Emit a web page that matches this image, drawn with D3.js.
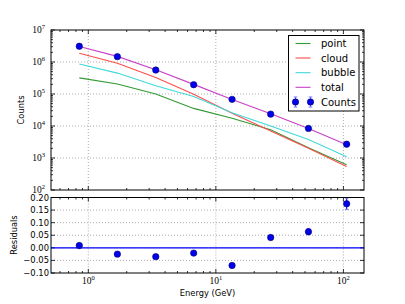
<!DOCTYPE html>
<html><head><meta charset="utf-8">
<script src="https://cdn.jsdelivr.net/npm/d3@7"></script>
<style>body{margin:0;background:#fff}svg{display:block}text{font-family:"DejaVu Sans",sans-serif;fill:#000}</style>
</head><body><svg id="c" width="405" height="304"></svg>
<script>
const energy = [0.85, 1.69, 3.38, 6.7, 13.4, 26.9, 53.2, 106];
const counts = [3.1e6, 1.47e6, 5.6e5, 1.95e5, 6.8e4, 2.35e4, 8.4e3, 2.7e3];
const countsErr = [1800, 1200, 750, 440, 260, 150, 92, 52];
const point = [3.2e5, 2.05e5, 1.0e5, 3.55e4, 1.74e4, 7.6e3, 2.1e3, 610];
const cloud = [1.87e6, 9.1e5, 3.3e5, 9.8e4, 2.5e4, 7.0e3, 2.0e3, 540];
const bubble = [8.7e5, 4.5e5, 1.8e5, 8.3e4, 2.6e4, 1.0e4, 3.8e3, 1100];
const total = [3.06e6, 1.5e6, 5.7e5, 2.0e5, 6.7e4, 2.4e4, 8.3e3, 2.6e3];
const residuals = [0.009, -0.025, -0.035, -0.021, -0.07, 0.041, 0.064, 0.175];
const residErr = [0.002, 0.003, 0.003, 0.004, 0.005, 0.006, 0.012, 0.022];
const seriesNames = ["point", "cloud", "bubble", "total"];
const seriesColors = ["#339933", "#ff4d4d", "#40d9d9", "#c840c8"];
const yTopTicks = [2, 3, 4, 5, 6, 7];
const yResTicks = [-0.10, -0.05, 0.00, 0.05, 0.10, 0.15, 0.20];
const xTicks = [0, 1, 2];

const svg = d3.select("#c");
const L = 51, R = 364, T1 = 30, B1 = 190, T2 = 197.5, B2 = 273;
const x = d3.scaleLog().domain([0.51, 145]).range([L, R]);
const y1 = d3.scaleLog().domain([1e2, 1e7]).range([B1, T1]);
const y2 = d3.scaleLinear().domain([-0.1, 0.2]).range([B2, T2]);

const grid = svg.append("g").attr("stroke", "#999").attr("stroke-width", 0.8).attr("stroke-dasharray", "1,2");
const xMinor = [];
for (let d = -1; d <= 2; d++) for (let k = 2; k <= 9; k++) { const v = k * Math.pow(10, d); if (v >= 0.51 && v <= 145) xMinor.push(v); }
const yMinor = [];
for (let d = 2; d < 7; d++) for (let k = 2; k <= 9; k++) yMinor.push(k * Math.pow(10, d));

function panelTicks(yT, yB) {
  const g = svg.append("g").attr("stroke", "#000").attr("stroke-width", 0.8);
  xTicks.forEach(e => { const px = x(Math.pow(10, e));
    grid.append("line").attr("x1", px).attr("x2", px).attr("y1", yT).attr("y2", yB);
    g.append("line").attr("x1", px).attr("x2", px).attr("y1", yB).attr("y2", yB - 4);
    g.append("line").attr("x1", px).attr("x2", px).attr("y1", yT).attr("y2", yT + 4);
  });
  xMinor.forEach(v => { const px = x(v);
    g.append("line").attr("x1", px).attr("x2", px).attr("y1", yB).attr("y2", yB - 2);
    g.append("line").attr("x1", px).attr("x2", px).attr("y1", yT).attr("y2", yT + 2);
  });
  return g;
}

// top panel
const gt = panelTicks(T1, B1);
yTopTicks.forEach(e => { const py = y1(Math.pow(10, e));
  if (e > 2 && e < 7) grid.append("line").attr("x1", L).attr("x2", R).attr("y1", py).attr("y2", py);
  gt.append("line").attr("x1", L).attr("x2", L + 4).attr("y1", py).attr("y2", py);
  gt.append("line").attr("x1", R).attr("x2", R - 4).attr("y1", py).attr("y2", py);
  const t = svg.append("text").attr("x", 45).attr("y", py + 3 - (e === 2 ? 0.5 : 0)).attr("text-anchor", "end")
    .attr("font-size", 9.5).style("font-family", "'Liberation Serif',serif").text("10");
  t.append("tspan").attr("dy", -4).attr("font-size", 6.5).text(e);
});
yMinor.forEach(v => { const py = y1(v);
  gt.append("line").attr("x1", L).attr("x2", L + 2).attr("y1", py).attr("y2", py);
  gt.append("line").attr("x1", R).attr("x2", R - 2).attr("y1", py).attr("y2", py);
});

const line = d3.line().x(d => x(d[0])).y(d => y1(d[1]));
[point, cloud, bubble, total].forEach((s, i) => {
  svg.append("path").datum(energy.map((e, j) => [e, s[j]])).attr("d", line)
    .attr("fill", "none").attr("stroke", seriesColors[i]).attr("stroke-width", 1.1);
});
energy.forEach((e, j) => {
  svg.append("line").attr("x1", x(e)).attr("x2", x(e)).attr("y1", y1(counts[j] - countsErr[j])).attr("y2", y1(counts[j] + countsErr[j]))
    .attr("stroke", "#7070ff").attr("stroke-width", 1);
});
svg.append("g").selectAll("circle").data(energy).join("circle")
  .attr("cx", d => x(d)).attr("cy", (d, j) => y1(counts[j])).attr("r", 3.2)
  .attr("fill", "#0000ee").attr("stroke", "#00006a").attr("stroke-width", 0.6);

svg.append("rect").attr("x", L).attr("y", T1).attr("width", R - L).attr("height", B1 - T1)
  .attr("fill", "none").attr("stroke", "#000").attr("stroke-width", 1);
svg.append("text").attr("transform", `translate(24,110) rotate(-90)`).attr("text-anchor", "middle")
  .attr("font-size", 8.3).text("Counts");

// legend
const lg = svg.append("g");
lg.append("rect").attr("x", 288.5).attr("y", 35.5).attr("width", 70.5).attr("height", 75.5)
  .attr("fill", "#fff").attr("stroke", "#000").attr("stroke-width", 1);
const rows = [43.5, 58, 72.7, 87.3, 102];
seriesNames.forEach((n, i) => {
  lg.append("line").attr("x1", 295.5).attr("x2", 310.5).attr("y1", rows[i]).attr("y2", rows[i])
    .attr("stroke", seriesColors[i]).attr("stroke-width", 1.1);
  lg.append("text").attr("x", 321).attr("y", rows[i] + 3.6).attr("font-size", 10).text(n);
});
[295.5, 310.5].forEach(px => {
  lg.append("line").attr("x1", px).attr("x2", px).attr("y1", rows[4] - 5).attr("y2", rows[4] + 5).attr("stroke", "#7070ff").attr("stroke-width", 1);
  [-5, 5].forEach(dy => lg.append("line").attr("x1", px - 1.8).attr("x2", px + 1.8).attr("y1", rows[4] + dy).attr("y2", rows[4] + dy).attr("stroke", "#7070ff").attr("stroke-width", 1));
  lg.append("circle").attr("cx", px).attr("cy", rows[4]).attr("r", 3.2).attr("fill", "#0000ee").attr("stroke", "#00006a").attr("stroke-width", 0.6);
});
lg.append("text").attr("x", 321).attr("y", rows[4] + 3.6).attr("font-size", 10).text("Counts");

// bottom panel
const gb = panelTicks(T2, B2);
yResTicks.forEach(v => { const py = y2(v);
  if (v > -0.1 && v < 0.2) grid.append("line").attr("x1", L).attr("x2", R).attr("y1", py).attr("y2", py);
  gb.append("line").attr("x1", L).attr("x2", L + 4).attr("y1", py).attr("y2", py);
  gb.append("line").attr("x1", R).attr("x2", R - 4).attr("y1", py).attr("y2", py);
  svg.append("text").attr("x", 49).attr("y", py + 3 + (v > 0.19 ? 0.5 : 0)).attr("text-anchor", "end").attr("font-size", 8.4)
    .text(d3.format(".2f")(v).replace("-", "\u2212"));
});
svg.append("line").attr("x1", L).attr("x2", R).attr("y1", y2(0)).attr("y2", y2(0)).attr("stroke", "#0000ff").attr("stroke-width", 1.2);
energy.forEach((e, j) => {
  const px = x(e), a = y2(residuals[j] - residErr[j]), b = y2(residuals[j] + residErr[j]);
  svg.append("line").attr("x1", px).attr("x2", px).attr("y1", a).attr("y2", b).attr("stroke", "#2020ff").attr("stroke-width", 1.2);
  [a, b].forEach(py => svg.append("line").attr("x1", px - 1.8).attr("x2", px + 1.8).attr("y1", py).attr("y2", py).attr("stroke", "#7070ff").attr("stroke-width", 1));
});
svg.append("g").selectAll("circle").data(energy).join("circle")
  .attr("cx", d => x(d)).attr("cy", (d, j) => y2(residuals[j])).attr("r", 3.2)
  .attr("fill", "#0000ee").attr("stroke", "#00006a").attr("stroke-width", 0.6);
svg.append("rect").attr("x", L).attr("y", T2).attr("width", R - L).attr("height", B2 - T2)
  .attr("fill", "none").attr("stroke", "#000").attr("stroke-width", 1);
xTicks.forEach(e => {
  const t = svg.append("text").attr("x", x(Math.pow(10, e))).attr("y", 284).attr("text-anchor", "middle")
    .attr("font-size", 9.5).style("font-family", "'Liberation Serif',serif").text("10");
  t.append("tspan").attr("dy", -4).attr("font-size", 6.5).text(e);
});
svg.append("text").attr("x", 207.5).attr("y", 296).attr("text-anchor", "middle").attr("font-size", 8.3).text("Energy (GeV)");
svg.append("text").attr("transform", `translate(17,235) rotate(-90)`).attr("text-anchor", "middle")
  .attr("font-size", 8.3).text("Residuals");
</script></body></html>
